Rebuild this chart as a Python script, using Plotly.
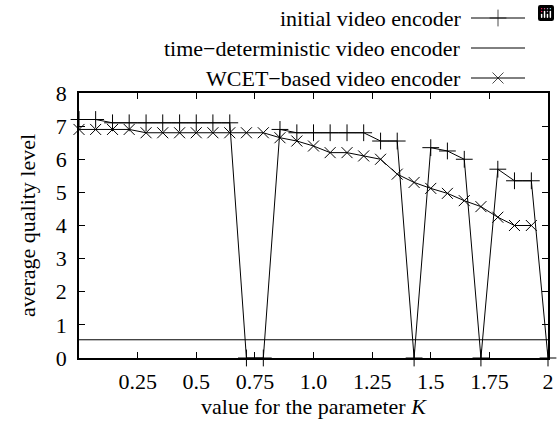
import plotly.graph_objects as go

# ---- data ----
K = [0.0, 0.071, 0.143, 0.214, 0.286, 0.357, 0.429, 0.5, 0.571, 0.643,
     0.714, 0.786, 0.857, 0.929, 1.0, 1.071, 1.143, 1.214, 1.286, 1.357,
     1.429, 1.5, 1.571, 1.643, 1.714, 1.786, 1.857, 1.929, 2.0]

initial = [7.2, 7.2, 7.1, 7.1, 7.1, 7.1, 7.1, 7.1, 7.1, 7.1,
           0.0, 0.0, 6.9, 6.8, 6.8, 6.8, 6.8, 6.8, 6.55, 6.55,
           0.0, 6.35, 6.25, 6.0, 0.0, 5.7, 5.35, 5.35, 0.0]

time_det = [0.55, 0.55, 0.55, 0.55, 0.55, 0.55, 0.55, 0.55, 0.55, 0.55,
            0.55, 0.55, 0.55, 0.55, 0.55, 0.55, 0.55, 0.55, 0.55, 0.55,
            0.55, 0.55, 0.55, 0.55, 0.55, 0.55, 0.55, 0.55, 0.55]

wcet = [6.9, 6.9, 6.9, 6.9, 6.8, 6.8, 6.8, 6.8, 6.8, 6.8,
        6.8, 6.8, 6.65, 6.55, 6.4, 6.2, 6.2, 6.1, 6.0, 5.55,
        5.3, 5.12, 4.97, 4.75, 4.57, 4.25, 4.0, 4.0]

series_names = ["initial video encoder",
                "time\u2212deterministic video encoder",
                "WCET\u2212based video encoder"]
series_symbols = ["cross-thin", None, "x-thin"]

x_tickvals = [0.25, 0.5, 0.75, 1.0, 1.25, 1.5, 1.75, 2.0]
x_ticktext = ["0.25", "0.5", "0.75", "1.0", "1.25", "1.5", "1.75", "2"]
y_tickvals = [0, 1, 2, 3, 4, 5, 6, 7, 8]

FONT = '"Liberation Serif", "Times New Roman", Times, serif'
FS = 22

# ---- layout geometry (pixels) ----
W, H = 560, 421
ML, MR, MT, MB = 79, 12, 0, 63
PH = H - MT - MB            # plotting region height
plot_top_px = 93            # top of the data frame
key_bottom_px = 90
key_rows_px = [18, 48, 78]  # key row centres
key_text_right = 463
key_line = (471, 525)

fig = go.Figure()

mk = dict(color="black", size=12, line=dict(color="black", width=1))
fig.add_trace(go.Scatter(x=K, y=initial, mode="lines+markers",
                         line=dict(color="black", width=1),
                         marker=dict(mk, symbol="cross-thin"),
                         cliponaxis=False, showlegend=False))
fig.add_trace(go.Scatter(x=K, y=time_det, mode="lines",
                         line=dict(color="black", width=1),
                         cliponaxis=False, showlegend=False))
fig.add_trace(go.Scatter(x=K[:len(wcet)], y=wcet, mode="lines+markers",
                         line=dict(color="black", width=1),
                         marker=dict(mk, symbol="x-thin", size=11),
                         cliponaxis=False, showlegend=False))

# ---- gnuplot-style key (text on the left, sample on the right) ----
annotations = []
for name, sym, yrow in zip(series_names, series_symbols, key_rows_px):
    xs = [key_line[0], (key_line[0] + key_line[1]) / 2, key_line[1]]
    ys = [yrow, yrow, yrow]
    if sym:
        fig.add_trace(go.Scatter(x=xs, y=ys, mode="lines+markers",
                                 xaxis="x2", yaxis="y2",
                                 line=dict(color="black", width=1),
                                 marker=dict(color="black",
                                             symbol=["circle", sym, "circle"],
                                             size=[0, 12 if sym == "cross-thin" else 11, 0],
                                             line=dict(color="black", width=1)),
                                 cliponaxis=False, showlegend=False, hoverinfo="skip"))
    else:
        fig.add_trace(go.Scatter(x=xs, y=ys, mode="lines",
                                 xaxis="x2", yaxis="y2",
                                 line=dict(color="black", width=1),
                                 cliponaxis=False, showlegend=False, hoverinfo="skip"))
    annotations.append(dict(x=key_text_right, y=yrow, xref="x2", yref="y2",
                            text=name, showarrow=False, xanchor="right",
                            yanchor="middle", font=dict(family=FONT, size=FS, color="black")))

tf = dict(family=FONT, size=FS, color="black")
axis_common = dict(showgrid=False, zeroline=False, showline=True, linecolor="black",
                   linewidth=1.5, mirror="ticks", ticks="inside", ticklen=6,
                   tickwidth=1, tickcolor="black", automargin=False, tickfont=tf)

fig.update_layout(
    width=W, height=H,
    margin=dict(l=ML, r=MR, t=MT, b=MB, pad=0, autoexpand=False),
    paper_bgcolor="white", plot_bgcolor="white",
    font=tf,
    modebar=dict(bgcolor="rgba(0,0,0,0)", color="rgba(0,0,0,0)",
                 activecolor="rgba(0,0,0,0)"),
    xaxis=dict(axis_common, range=[0, 2], tickvals=x_tickvals, ticktext=x_ticktext,
               ticklabelstandoff=3,
               title=dict(text="value for the parameter <i>K</i>", font=tf, standoff=3)),
    yaxis=dict(axis_common, range=[0, 8], tickvals=y_tickvals,
               domain=[0, (PH - plot_top_px) / PH], ticklabelstandoff=6,
               title=dict(text="average quality level", font=tf, standoff=14)),
    xaxis2=dict(domain=[0, 1], range=[ML, W - MR], visible=False, anchor="y2",
                fixedrange=True),
    yaxis2=dict(domain=[(PH - key_bottom_px) / PH, 1], range=[key_bottom_px, 0],
                visible=False, anchor="x2", fixedrange=True),
    annotations=annotations,
)

post = (
    "var st=document.createElement('style');"
    "st.textContent='body{margin:0} .js-plotly-plot svg text{font-family:"
    "\"Liberation Serif\",\"Times New Roman\",Times,serif !important}';"
    "document.head.appendChild(st);"
    "var gd=document.getElementById('{plot_id}');"
    "Plotly.redraw(gd);"
)

fig.write_html("out.html", post_script=post)
